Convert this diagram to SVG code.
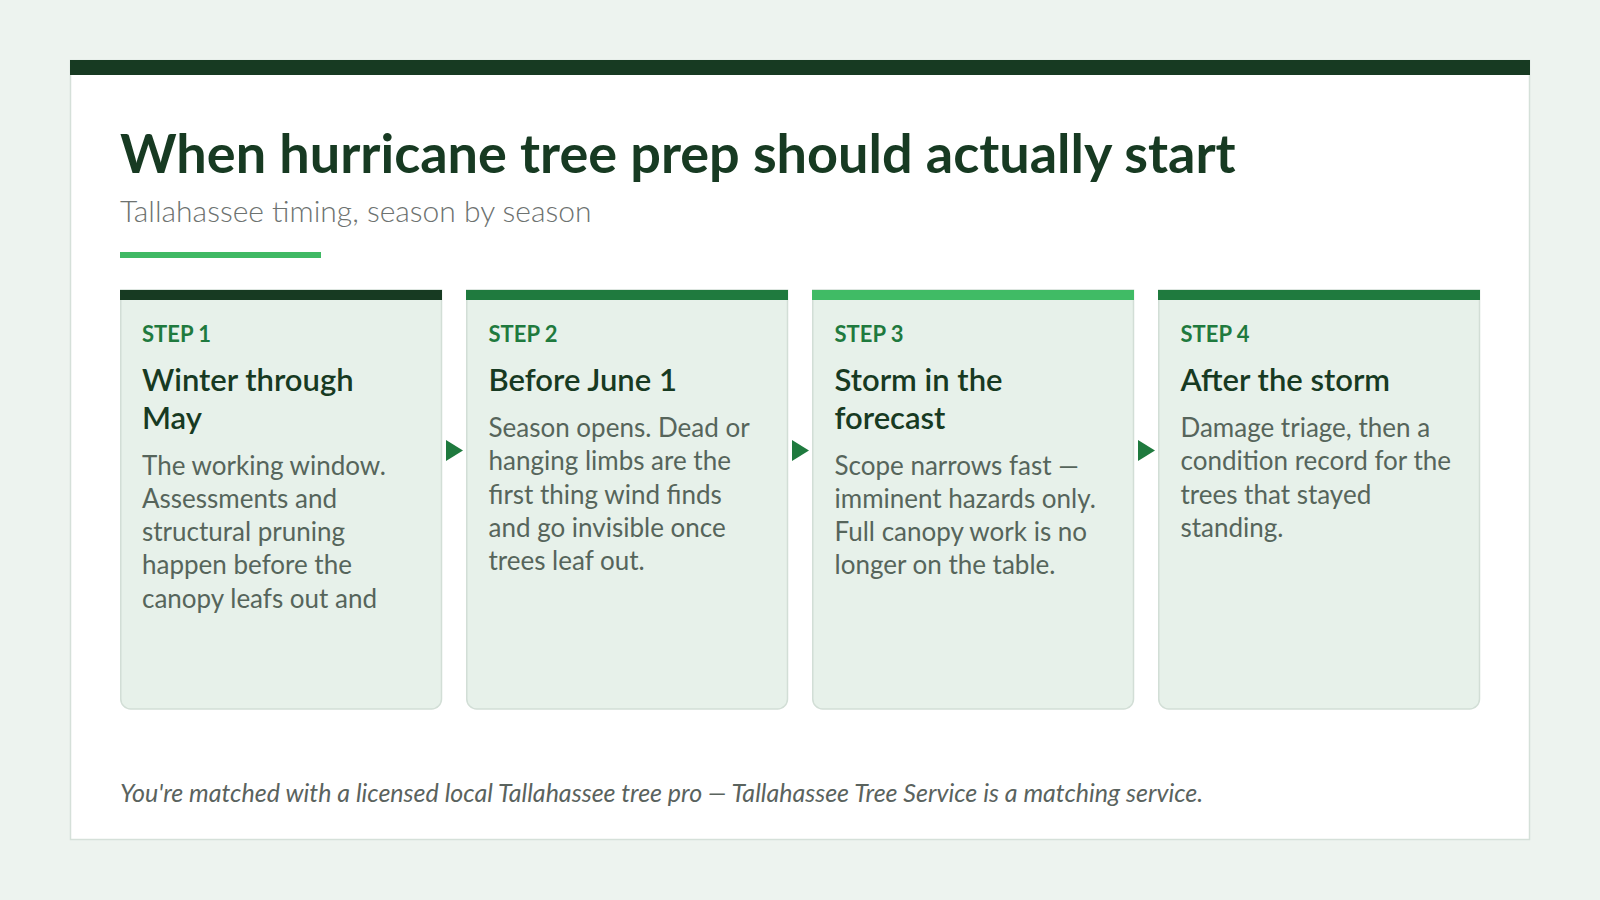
<svg xmlns="http://www.w3.org/2000/svg" width="1600" height="900" viewBox="0 0 1600 900">
<defs>
<style>
.title{font-family:Lato,"Liberation Sans",sans-serif;font-weight:700;font-size:54px;fill:#173a22}
.sub{font-family:Lato,"Liberation Sans",sans-serif;font-weight:300;font-size:30px;fill:#6d7270}
.step{font-family:Lato,"Liberation Sans",sans-serif;font-weight:700;font-size:22px;fill:#1f7a3e}
.head{font-family:Lato,"Liberation Sans",sans-serif;font-weight:600;font-size:31px;fill:#173a22}
.body{font-family:Lato,"Liberation Sans",sans-serif;font-weight:400;font-size:26px;fill:#56655b}
.foot{font-family:Lato,"Liberation Sans",sans-serif;font-style:italic;font-size:25px;fill:#5a635e}
.card{fill:#e7f1ea;stroke:#d2ded6;stroke-width:1.5}
.arrow{fill:#1f7a3e}
</style>
</defs>
<rect x="0" y="0" width="1600" height="900" fill="#edf3ef"/>
<rect x="70.5" y="60.5" width="1459" height="779" fill="#ffffff" stroke="#d5e0d9" stroke-width="1.5"/>
<rect x="70" y="60" width="1460" height="15" fill="#173a22"/>
<text class="title" x="120" y="173">When hurricane tree prep should actually start</text>
<text class="sub" x="120" y="222">Tallahassee timing, season by season</text>
<rect x="120" y="252" width="201" height="6" fill="#3fb964"/>

<g id="step1">
<path class="card" d="M120.75 290 V699 a10 10 0 0 0 10 10 H431.5 a10 10 0 0 0 10 -10 V290 Z"/>
<rect x="120" y="290" width="322" height="10" fill="#173a22"/>
<text class="step" x="142" y="342">STEP 1</text>
<text class="head" x="142" y="391">Winter through</text>
<text class="head" x="142" y="428.5">May</text>
<text class="body" x="142" y="474.5">The working window.</text>
<text class="body" x="142" y="507.8">Assessments and</text>
<text class="body" x="142" y="541.1">structural pruning</text>
<text class="body" x="142" y="574.4">happen before the</text>
<text class="body" x="142" y="607.7">canopy leafs out and</text>
</g>

<g id="step2">
<path class="card" d="M466.75 290 V699 a10 10 0 0 0 10 10 H777.5 a10 10 0 0 0 10 -10 V290 Z"/>
<rect x="466" y="290" width="322" height="10" fill="#1f7a3e"/>
<text class="step" x="488.5" y="342">STEP 2</text>
<text class="head" x="488.5" y="391">Before June 1</text>
<text class="body" x="488.5" y="437">Season opens. Dead or</text>
<text class="body" x="488.5" y="470.3">hanging limbs are the</text>
<text class="body" x="488.5" y="503.6">first thing wind finds</text>
<text class="body" x="488.5" y="536.9">and go invisible once</text>
<text class="body" x="488.5" y="570.2">trees leaf out.</text>
</g>

<g id="step3">
<path class="card" d="M812.75 290 V699 a10 10 0 0 0 10 10 H1123.5 a10 10 0 0 0 10 -10 V290 Z"/>
<rect x="812" y="290" width="322" height="10" fill="#40bb65"/>
<text class="step" x="834.5" y="342">STEP 3</text>
<text class="head" x="834.5" y="391">Storm in the</text>
<text class="head" x="834.5" y="428.5">forecast</text>
<text class="body" x="834.5" y="474.5">Scope narrows fast —</text>
<text class="body" x="834.5" y="507.8">imminent hazards only.</text>
<text class="body" x="834.5" y="541.1">Full canopy work is no</text>
<text class="body" x="834.5" y="574.4">longer on the table.</text>
</g>

<g id="step4">
<path class="card" d="M1158.75 290 V699 a10 10 0 0 0 10 10 H1469.5 a10 10 0 0 0 10 -10 V290 Z"/>
<rect x="1158" y="290" width="322" height="10" fill="#1f7a3e"/>
<text class="step" x="1180.5" y="342">STEP 4</text>
<text class="head" x="1180.5" y="391">After the storm</text>
<text class="body" x="1180.5" y="437">Damage triage, then a</text>
<text class="body" x="1180.5" y="470.3">condition record for the</text>
<text class="body" x="1180.5" y="503.6">trees that stayed</text>
<text class="body" x="1180.5" y="536.9">standing.</text>
</g>

<g id="connectors">
<polygon class="arrow" points="446,440 463,450.5 446,461"/>
<polygon class="arrow" points="792,440 809,450.5 792,461"/>
<polygon class="arrow" points="1138,440 1155,450.5 1138,461"/>
</g>

<text class="foot" x="120" y="802">You're matched with a licensed local Tallahassee tree pro — Tallahassee Tree Service is a matching service.</text>
</svg>
